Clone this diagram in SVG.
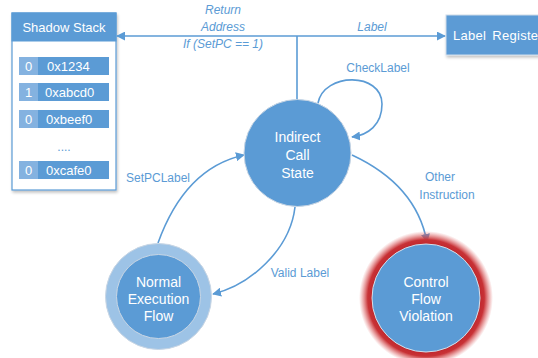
<svg xmlns="http://www.w3.org/2000/svg" width="538" height="358" viewBox="0 0 538 358">
  <style>
    text { font-family: "Liberation Sans", Arial, sans-serif; }
    .lbl { fill: #5B9BD5; font-size: 12px; }
    .it { font-style: italic; }
    .node { fill: #ffffff; font-size: 14px; text-anchor: middle; }
    .wire { fill: none; stroke: #5B9BD5; stroke-width: 1.6; }
    .cell { fill: #5B9BD5; }
    .bit { fill: #84B2E0; }
    .cellt { fill: #ffffff; font-size: 13px; }
  </style>
  <defs>
    <marker id="arr" viewBox="0 0 10 10" refX="9" refY="5" markerWidth="9" markerHeight="9" markerUnits="userSpaceOnUse" orient="auto">
      <path d="M0,0 L10,5 L0,10 Z" fill="#5B9BD5"/>
    </marker>
    <radialGradient id="glow" cx="0.5" cy="0.5" r="0.5">
      <stop offset="0.8" stop-color="#C0282E"/>
      <stop offset="0.87" stop-color="#C83236"/>
      <stop offset="1" stop-color="#E06060" stop-opacity="0"/>
    </radialGradient>
    <filter id="sh" x="-10%" y="-10%" width="130%" height="130%">
      <feGaussianBlur in="SourceAlpha" stdDeviation="1.5"/>
      <feOffset dx="1" dy="1.5"/>
      <feComponentTransfer><feFuncA type="linear" slope="0.25"/></feComponentTransfer>
      <feMerge><feMergeNode/><feMergeNode in="SourceGraphic"/></feMerge>
    </filter>
  </defs>

  <!-- Shadow stack -->
  <g id="shadow-stack">
    <rect x="12" y="13" width="104" height="177" fill="#ffffff" stroke="#5B9BD5" stroke-width="1.2" filter="url(#sh)"/>
    <rect x="12" y="13" width="104" height="28" fill="#5B9BD5" stroke="#5B9BD5"/>
    <text x="64" y="32" class="cellt" text-anchor="middle">Shadow Stack</text>
    <rect x="19" y="57" width="19" height="18" class="bit"/><rect x="38" y="57" width="71" height="18" class="cell"/>
    <text x="28.5" y="71" class="cellt" text-anchor="middle">0</text><text x="47" y="71" class="cellt">0x1234</text>
    <rect x="19" y="83" width="19" height="18" class="bit"/><rect x="38" y="83" width="71" height="18" class="cell"/>
    <text x="28.5" y="97" class="cellt" text-anchor="middle">1</text><text x="45" y="97" class="cellt">0xabcd0</text>
    <rect x="19" y="110" width="19" height="18" class="bit"/><rect x="38" y="110" width="71" height="18" class="cell"/>
    <text x="28.5" y="124" class="cellt" text-anchor="middle">0</text><text x="46" y="124" class="cellt">0xbeef0</text>
    <text x="64" y="151" class="lbl" text-anchor="middle" font-size="10">....</text>
    <rect x="19" y="161" width="19" height="18" class="bit"/><rect x="38" y="161" width="71" height="18" class="cell"/>
    <text x="28.5" y="175" class="cellt" text-anchor="middle">0</text><text x="46" y="175" class="cellt">0xcafe0</text>
  </g>

  <!-- Label register -->
  <g id="label-register">
    <rect x="446" y="15" width="100" height="40" fill="#5B9BD5" stroke="#D0DCEA" stroke-width="1" filter="url(#sh)"/>
    <text x="453" y="40" class="cellt" font-size="13.5" letter-spacing="0.3" word-spacing="2">Label Register</text>
  </g>

  <!-- Connectors -->
  <g id="connectors">
    <path class="wire" d="M297,100 V36"/>
    <path class="wire" d="M297,36 H117" marker-end="url(#arr)"/>
    <path class="wire" d="M297,36 H445" marker-end="url(#arr)"/>
    <path class="wire" d="M318,103 C324,72 382,72 382,104 C382,125 368,135 352,137" marker-end="url(#arr)"/>
    <path class="wire" d="M158,243 Q185,168 244,155" marker-end="url(#arr)"/>
    <path class="wire" d="M295,207 C290,250 250,285 213,294" marker-end="url(#arr)"/>
    <path class="wire" d="M352,155 C395,175 420,205 427,242" marker-end="url(#arr)"/>
    <text x="223" y="14" class="lbl it" text-anchor="middle">Return</text>
    <text x="223" y="31" class="lbl it" text-anchor="middle">Address</text>
    <text x="223" y="48" class="lbl it" text-anchor="middle">If (SetPC == 1)</text>
    <text x="372" y="31" class="lbl it" text-anchor="middle">Label</text>
    <text x="378" y="72" class="lbl" text-anchor="middle" font-size="11.5">CheckLabel</text>
    <text x="158" y="182" class="lbl" text-anchor="middle">SetPCLabel</text>
    <text x="300" y="277" class="lbl" text-anchor="middle">Valid Label</text>
    <text x="440" y="181" class="lbl" text-anchor="middle">Other</text>
    <text x="447" y="199" class="lbl" text-anchor="middle">Instruction</text>
  </g>

  <!-- States -->
  <g id="indirect-call-state">
    <circle cx="297.5" cy="153" r="53.5" fill="#5B9BD5" stroke="#C9D6E4" stroke-width="1"/>
    <text x="297.5" y="142" class="node">Indirect</text>
    <text x="297.5" y="160" class="node">Call</text>
    <text x="297.5" y="178" class="node">State</text>
  </g>

  <g id="normal-execution-flow">
    <circle cx="158.5" cy="296.5" r="53" fill="#9DC3E6" stroke="#C9D6E4" stroke-width="1"/>
    <circle cx="158.5" cy="296.5" r="42" fill="#5B9BD5" stroke="#C9D6E4" stroke-width="1"/>
    <text x="158.5" y="287" class="node">Normal</text>
    <text x="158.5" y="304" class="node">Execution</text>
    <text x="158.5" y="321" class="node">Flow</text>
  </g>

  <g id="control-flow-violation">
    <circle cx="426" cy="298" r="67" fill="url(#glow)"/>
    <circle cx="426" cy="298" r="54" fill="#5B9BD5" stroke="#D6DEE8" stroke-width="1"/>
    <text x="426" y="287" class="node">Control</text>
    <text x="426" y="304" class="node">Flow</text>
    <text x="426" y="321" class="node">Violation</text>
  </g>
</svg>
